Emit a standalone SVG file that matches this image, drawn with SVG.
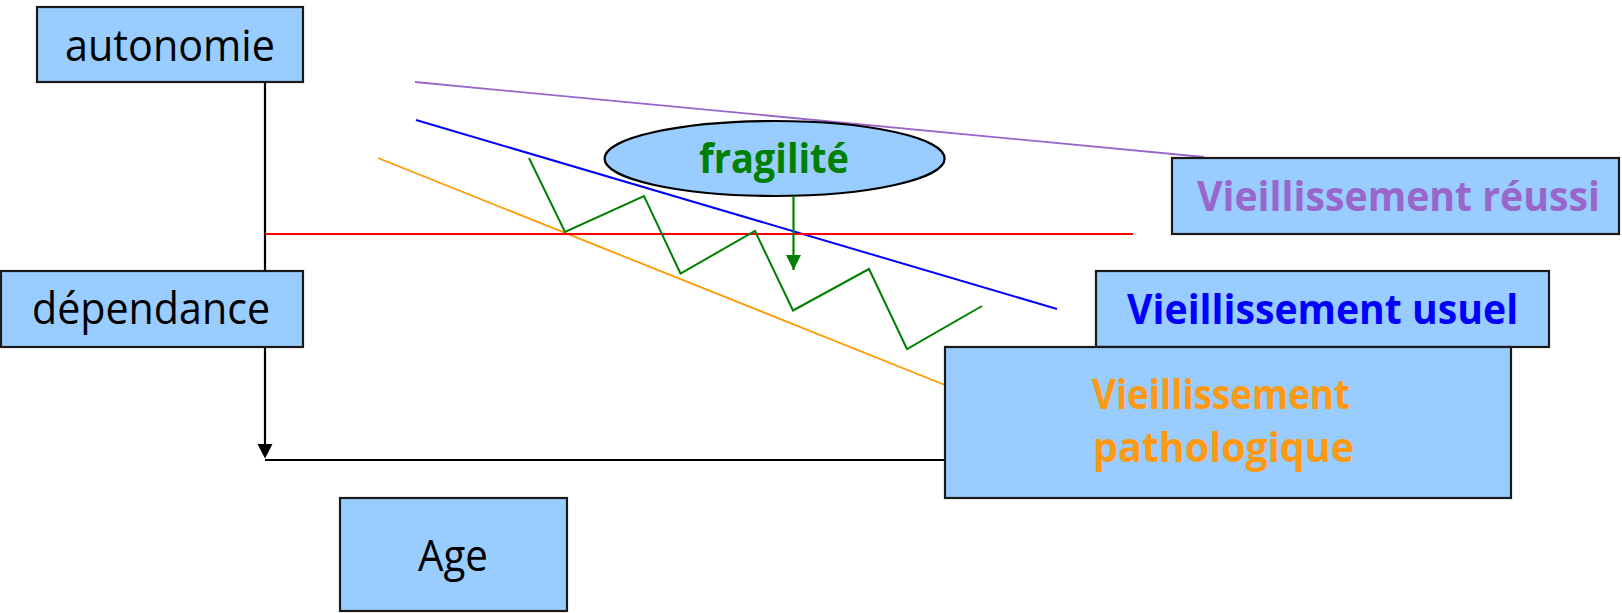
<svg xmlns="http://www.w3.org/2000/svg" width="1622" height="613" viewBox="0 0 1622 613">
  <defs>
    <style>
      .box { fill: #99CCFF; stroke: #1a1a1a; stroke-width: 2.2; }
      .lbl { font-family: 'Open Sans', 'Noto Sans', 'Liberation Sans', sans-serif; font-size: 43px; fill: #000; }
      .bold { font-family: 'Open Sans', 'Noto Sans', 'Liberation Sans', sans-serif; font-size: 42px; font-weight: bold; }
      .axis { fill: none; stroke: #000; stroke-width: 2.2; }
      .trend { fill: none; stroke-linecap: butt; }
    </style>
    <marker id="arrowGreen" viewBox="0 0 10 10" refX="10" refY="5" markerWidth="15" markerHeight="15" markerUnits="userSpaceOnUse" orient="auto">
      <path d="M0,0 L10,5 L0,10 Z" fill="#008000"/>
    </marker>
  </defs>

  <rect width="1622" height="613" fill="#ffffff"/>

  <!-- axes: vertical autonomy/dependence axis and horizontal age axis -->
  <g id="connectors">
    <line class="axis" x1="265" y1="82" x2="265" y2="444"/>
    <path d="M257.5,444 L272.5,444 L265,458.5 Z" fill="#000"/>
    <line class="axis" x1="265" y1="460" x2="946" y2="460"/>
  </g>

  <!-- ageing trajectories -->
  <g id="trends">
    <line class="trend" x1="415" y1="82" x2="1204" y2="157" stroke="#9966CC" stroke-width="1.8"/>
    <line class="trend" x1="416" y1="120" x2="1057" y2="309" stroke="#0000FF" stroke-width="2"/>
    <line class="trend" x1="378" y1="158" x2="945" y2="385" stroke="#FF9900" stroke-width="1.8"/>
    <line class="trend" x1="265" y1="234" x2="1133" y2="234" stroke="#FF0000" stroke-width="2"/>
    <polyline class="trend" points="529,158 565,232 644,196 680.5,273.5 755,231 793,310.5 869,269 907,349 982,306" stroke="#008000" stroke-width="2" stroke-linejoin="miter"/>
  </g>

  <g id="node-autonomie">
    <rect class="box" x="37" y="7" width="266" height="75"/>
    <text class="lbl" x="170" y="61" text-anchor="middle" textLength="210" lengthAdjust="spacingAndGlyphs">autonomie</text>
  </g>

  <g id="node-dependance">
    <rect class="box" x="1" y="271" width="302" height="76"/>
    <text class="lbl" x="151" y="324" text-anchor="middle" textLength="238" lengthAdjust="spacingAndGlyphs">dépendance</text>
  </g>

  <g id="node-age">
    <rect class="box" x="340" y="498" width="227" height="113"/>
    <text class="lbl" x="453" y="571" text-anchor="middle" textLength="70" lengthAdjust="spacingAndGlyphs">Age</text>
  </g>

  <g id="node-fragilite">
    <ellipse cx="774.6" cy="158.5" rx="170" ry="37.5" fill="#99CCFF" stroke="#000" stroke-width="2.2"/>
    <text class="bold" x="774" y="173" text-anchor="middle" fill="#008000" textLength="150" lengthAdjust="spacingAndGlyphs">fragilité</text>
  </g>

  <g id="fragility-arrow">
    <line x1="793.5" y1="196" x2="793.5" y2="270" stroke="#008000" stroke-width="2.2" marker-end="url(#arrowGreen)"/>
  </g>

  <g id="node-reussi">
    <rect class="box" x="1172" y="158" width="447" height="76"/>
    <text class="bold" x="1398.5" y="211" text-anchor="middle" fill="#9966CC" font-size="39.5" textLength="403" lengthAdjust="spacingAndGlyphs">Vieillissement réussi</text>
  </g>

  <g id="node-usuel">
    <rect class="box" x="1096" y="271" width="453" height="76"/>
    <text class="bold" x="1322.6" y="324" text-anchor="middle" fill="#0000FF" textLength="391" lengthAdjust="spacingAndGlyphs">Vieillissement usuel</text>
  </g>

  <g id="node-pathologique">
    <rect class="box" x="945" y="347" width="566" height="151"/>
    <text class="bold" fill="#FF9912">
      <tspan x="1092" y="409" textLength="258" lengthAdjust="spacingAndGlyphs">Vieillissement</tspan>
      <tspan x="1093" y="462" textLength="261" lengthAdjust="spacingAndGlyphs">pathologique</tspan>
    </text>
  </g>
</svg>
